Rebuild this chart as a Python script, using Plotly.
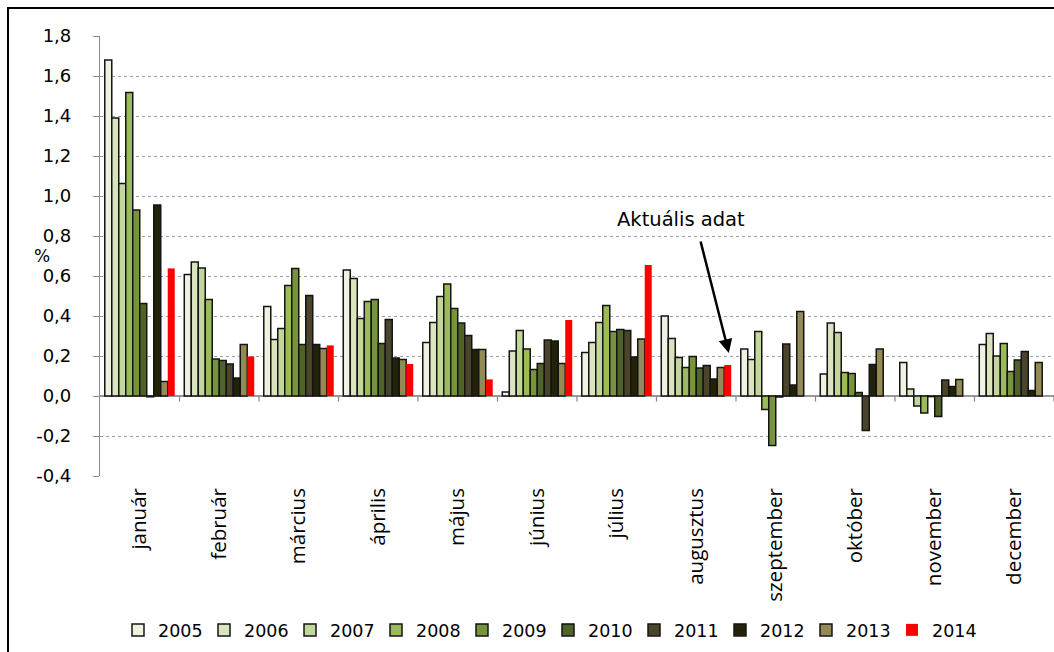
import plotly.graph_objects as go

months = ["január", "február", "március", "április", "május", "június",
          "július", "augusztus", "szeptember", "október", "november", "december"]
years = ["2005", "2006", "2007", "2008", "2009", "2010", "2011", "2012", "2013", "2014"]

v2005 = [1.68, 0.608, 0.447, 0.63, 0.267, 0.02, 0.217, 0.40, 0.235, 0.11, 0.168, 0.258]
v2006 = [1.39, 0.67, 0.283, 0.587, 0.368, 0.225, 0.267, 0.287, 0.182, 0.365, 0.035, 0.312]
v2007 = [1.063, 0.64, 0.337, 0.388, 0.497, 0.328, 0.368, 0.192, 0.322, 0.317, -0.05, 0.20]
v2008 = [1.517, 0.483, 0.553, 0.472, 0.56, 0.235, 0.452, 0.143, -0.068, 0.118, -0.085, 0.262]
v2009 = [0.93, 0.185, 0.637, 0.483, 0.437, 0.133, 0.322, 0.198, -0.248, 0.112, -0.003, 0.122]
v2010 = [0.463, 0.178, 0.257, 0.263, 0.365, 0.162, 0.333, 0.14, -0.005, 0.018, -0.103, 0.18]
v2011 = [-0.004, 0.16, 0.502, 0.383, 0.302, 0.28, 0.328, 0.153, 0.26, -0.173, 0.08, 0.222]
v2012 = [0.955, 0.09, 0.257, 0.19, 0.233, 0.275, 0.195, 0.085, 0.055, 0.158, 0.048, 0.027]
v2013 = [0.073, 0.258, 0.238, 0.183, 0.233, 0.162, 0.285, 0.143, 0.422, 0.235, 0.083, 0.167]
v2014 = [0.638, 0.198, 0.253, 0.16, 0.083, 0.38, 0.655, 0.155, None, None, None, None]

series = [v2005, v2006, v2007, v2008, v2009, v2010, v2011, v2012, v2013, v2014]
colors = ["#EEF2E0", "#DAE5C0", "#C3D69B", "#9BBB59", "#77933C", "#4F6228",
          "#4A452A", "#222208", "#948A54", "#FF0000"]

y_ticks = [-0.4, -0.2, 0.0, 0.2, 0.4, 0.6, 0.8, 1.0, 1.2, 1.4, 1.6, 1.8]
y_ticktext = [("%.1f" % v).replace(".", ",") for v in y_ticks]

annot_text = "Aktuális adat"

W, H = 1054, 652
ML, MR, MT, MB = 100, 0, 36, 176
PW, PH = W - ML - MR, H - MT - MB


def px_to_paper_x(px):
    return (px - ML) / PW


def px_to_paper_y(py):
    return (H - MB - py) / PH


fig = go.Figure()
for yr, vals, col in zip(years, series, colors):
    is_red = yr == "2014"
    fig.add_trace(go.Bar(
        name=yr, x=months, y=vals,
        marker=dict(color=col,
                    line=dict(color="#141414", width=0 if is_red else 1.5)),
    ))

shapes = []
# tick marks on the zero line between categories
for i in range(len(months)):
    shapes.append(dict(type="line", xref="x", yref="y",
                       x0=i + 0.5, x1=i + 0.5, y0=0, y1=-0.028,
                       line=dict(color="#888888", width=1.2)))
# outer frame
shapes.append(dict(type="rect", xref="paper", yref="paper",
                   x0=px_to_paper_x(8), x1=px_to_paper_x(1070),
                   y0=px_to_paper_y(670), y1=px_to_paper_y(8),
                   line=dict(color="black", width=2), fillcolor="rgba(0,0,0,0)",
                   layer="below"))

annotations = [
    dict(text="%", xref="paper", yref="paper",
         x=px_to_paper_x(32), y=px_to_paper_y(256), showarrow=False,
         font=dict(family="DejaVu Sans", size=17, color="black")),
    dict(text=annot_text, xref="paper", yref="paper",
         x=px_to_paper_x(681), y=px_to_paper_y(219), showarrow=False,
         font=dict(family="DejaVu Sans", size=19.5, color="black")),
    dict(text="", xref="x", yref="y", x=7.41, y=0.215,
         axref="x", ayref="y", ax=7.05, ay=0.78,
         showarrow=True, arrowhead=2, arrowsize=1.1, arrowwidth=2.5,
         arrowcolor="black"),
]

fig.update_layout(
    width=W, height=H,
    margin=dict(l=ML, r=MR, t=MT, b=MB, pad=0),
    paper_bgcolor="white", plot_bgcolor="white",
    barmode="group", bargap=0.12, bargroupgap=0,
    font=dict(family="DejaVu Sans", color="black"),
    xaxis=dict(type="category", showgrid=False, showline=False, ticks="",
               tickangle=-90, tickfont=dict(family="Open Sans", size=20.5, color="black"),
               ticklabelstandoff=7, range=[-0.5, 11.5], fixedrange=True),
    yaxis=dict(range=[-0.4, 1.8], tickvals=y_ticks, ticktext=y_ticktext,
               showgrid=True, gridcolor="#a0a0a0", griddash="dot", gridwidth=1,
               zeroline=True, zerolinecolor="#999999", zerolinewidth=1.5,
               showline=True, linecolor="#8c8c8c", linewidth=1.2,
               ticks="outside", ticklen=6, tickcolor="#8c8c8c",
               ticklabelstandoff=18, fixedrange=True,
               tickfont=dict(family="DejaVu Sans", size=18, color="black")),
    legend=dict(orientation="h", x=px_to_paper_x(118), y=px_to_paper_y(630),
                xanchor="left", yanchor="middle",
                entrywidth=41, entrywidthmode="pixels",
                font=dict(family="DejaVu Sans", size=17.5, color="black"),
                traceorder="normal", bgcolor="rgba(0,0,0,0)"),
    shapes=shapes,
    annotations=annotations,
    showlegend=True,
)

fig.write_html("out.html", config={"displayModeBar": False},
               post_script="document.body.style.margin='0';")
